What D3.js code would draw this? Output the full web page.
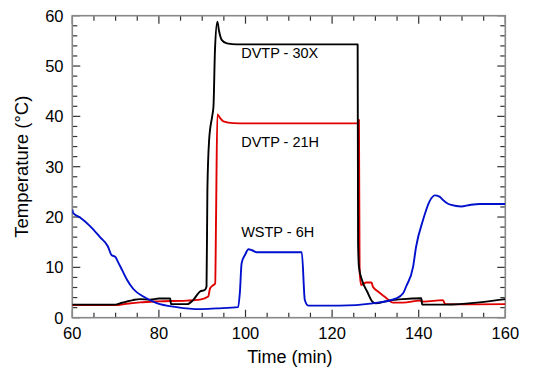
<!DOCTYPE html>
<html><head><meta charset="utf-8">
<script src="https://cdn.jsdelivr.net/npm/d3@7/dist/d3.min.js"></script>
<style>body{margin:0;background:#fff}</style></head>
<body><svg id="c" width="533" height="380"></svg>
<script>
// Data
const xTicks = [60, 80, 100, 120, 140, 160];
const yTicks = [0, 10, 20, 30, 40, 50, 60];

const blackTime = [60,70,71,74,75.6,78,80,82.6,82.8,86.6,87.9,89.5,90.6,91.0,91.2,91.6,92.3,92.6,92.95,93.5,93.9,94.5,95.7,98,125.9,126.0,126.2,126.9,128.1,129.3,130,133.1,136.4,140.6,140.8,146,154,160];
const blackTemp = [2.6,2.6,2.85,3.5,3.7,3.6,3.8,3.8,2.7,2.7,3.5,5.2,5.5,6.2,25.4,35.3,40.0,41.9,53.2,58.8,56.9,55.2,54.5,54.3,54.3,14.8,10.1,7.5,5.2,3.2,2.85,3.4,3.7,3.85,2.6,2.6,3.05,3.7];

const redTime = [60,70,72,75.6,80,86.4,89.5,91.4,91.8,92.6,93.0,93.2,93.5,94.2,94.9,97.2,100,126.1,126.2,126.35,126.7,127.9,129.1,129.4,130.6,132.1,134.1,136.4,140.2,141.1,145.6,146.1,150.2,160];
const redTemp = [2.5,2.5,2.7,3.05,3.25,3.4,3.6,4.2,5.8,6.5,6.8,20,40.4,39.6,39.0,38.65,38.6,38.6,39.3,9.5,6.5,7.0,7.0,6.2,5.2,4.2,3.0,3.0,3.4,3.2,3.5,2.7,2.65,2.7];

const blueTime = [60,60.2,61.8,64.1,66.4,68.2,69.1,69.9,70.6,71.6,72.6,74.1,76.4,79.5,84.1,89.5,93.3,98.3,98.7,99.1,99.9,100.7,101.5,102.6,113,113.7,114.5,121.7,129.4,134.8,136.4,137.1,138.7,139.4,141,142.5,143.7,144.8,145.6,146.3,147.5,149.8,151.8,154.1,160];
const blueTemp = [21.5,20.8,19.9,18.2,16.0,14.2,12.4,12.1,11.0,9.3,7.6,5.7,4.2,2.9,2.1,1.7,1.85,2.1,5,10.8,12.5,13.6,13.4,13.0,13.0,3.5,2.4,2.4,2.85,3.85,4.85,6.2,10.1,14.1,19.4,23.1,24.3,24.05,23.4,22.9,22.4,22.1,22.4,22.6,22.6];

const labels = ["DVTP - 30X", "DVTP - 21H", "WSTP - 6H"];
const labelPos = [[99, 51.5], [99, 34], [99, 16]];

const svg = d3.select("#c");
const L = 72.3, R = 505.3, T = 15.7, B = 317.7;
const x = d3.scaleLinear().domain([60,160]).range([L,R]);
const y = d3.scaleLinear().domain([0,60]).range([B,T]);
const font = "'Liberation Sans', Arial, Helvetica, sans-serif";

// ticks
const minorX = d3.range(60,161,5), minorY = d3.range(0,61,2);
const tg = svg.append("g").attr("stroke","#333").attr("stroke-width",1.2);
minorX.forEach(v=>{
  const len = v%20===0 ? 8 : 5;
  tg.append("line").attr("x1",x(v)).attr("x2",x(v)).attr("y1",B).attr("y2",B-len);
  tg.append("line").attr("x1",x(v)).attr("x2",x(v)).attr("y1",T).attr("y2",T+len);
});
minorY.forEach(v=>{
  const len = v%10===0 ? 8 : 5;
  tg.append("line").attr("y1",y(v)).attr("y2",y(v)).attr("x1",L).attr("x2",L+len);
  tg.append("line").attr("y1",y(v)).attr("y2",y(v)).attr("x1",R).attr("x2",R-len);
});
svg.append("rect").attr("x",L).attr("y",T).attr("width",R-L).attr("height",B-T)
  .attr("fill","none").attr("stroke","#888").attr("stroke-width",1.6);

// tick labels
svg.append("g").selectAll("text").data(xTicks).join("text")
  .attr("x",d=>x(d)).attr("y",338.5).attr("text-anchor","middle")
  .attr("font-family",font).attr("font-size",16.5).text(d=>d);
svg.append("g").selectAll("text").data(yTicks).join("text")
  .attr("x",63.5).attr("y",d=>y(d)+6).attr("text-anchor","end")
  .attr("font-family",font).attr("font-size",16.5).text(d=>d);

// axis titles
svg.append("text").attr("x",(L+R)/2+1).attr("y",362.5).attr("text-anchor","middle")
  .attr("font-family",font).attr("font-size",18).text("Time (min)");
svg.append("text").attr("transform",`translate(27.5,${(T+B)/2}) rotate(-90)`)
  .attr("text-anchor","middle").attr("font-family",font).attr("font-size",18.5)
  .text("Temperature (°C)");

// lines
const line = d3.line().x(d=>x(d[0])).y(d=>y(d[1])).curve(d3.curveMonotoneX);
const series = [
  {t:redTime, v:redTemp, c:"#e00000"},
  {t:blackTime, v:blackTemp, c:"#000"},
  {t:blueTime, v:blueTemp, c:"#0010cc"}
];
svg.append("clipPath").attr("id","cp").append("rect")
  .attr("x",L).attr("y",T).attr("width",R-L).attr("height",B-T);
series.forEach(s=>{
  svg.append("path").datum(s.t.map((t,i)=>[t,s.v[i]]))
    .attr("d",line).attr("fill","none").attr("stroke",s.c)
    .attr("stroke-width",1.9).attr("stroke-linejoin","round")
    .attr("clip-path","url(#cp)");
});

// series labels
svg.append("g").selectAll("text").data(labels).join("text")
  .attr("x",(d,i)=>x(labelPos[i][0])).attr("y",(d,i)=>y(labelPos[i][1]))
  .attr("font-family",font).attr("font-size",14.5).text(d=>d);
</script></body></html>
